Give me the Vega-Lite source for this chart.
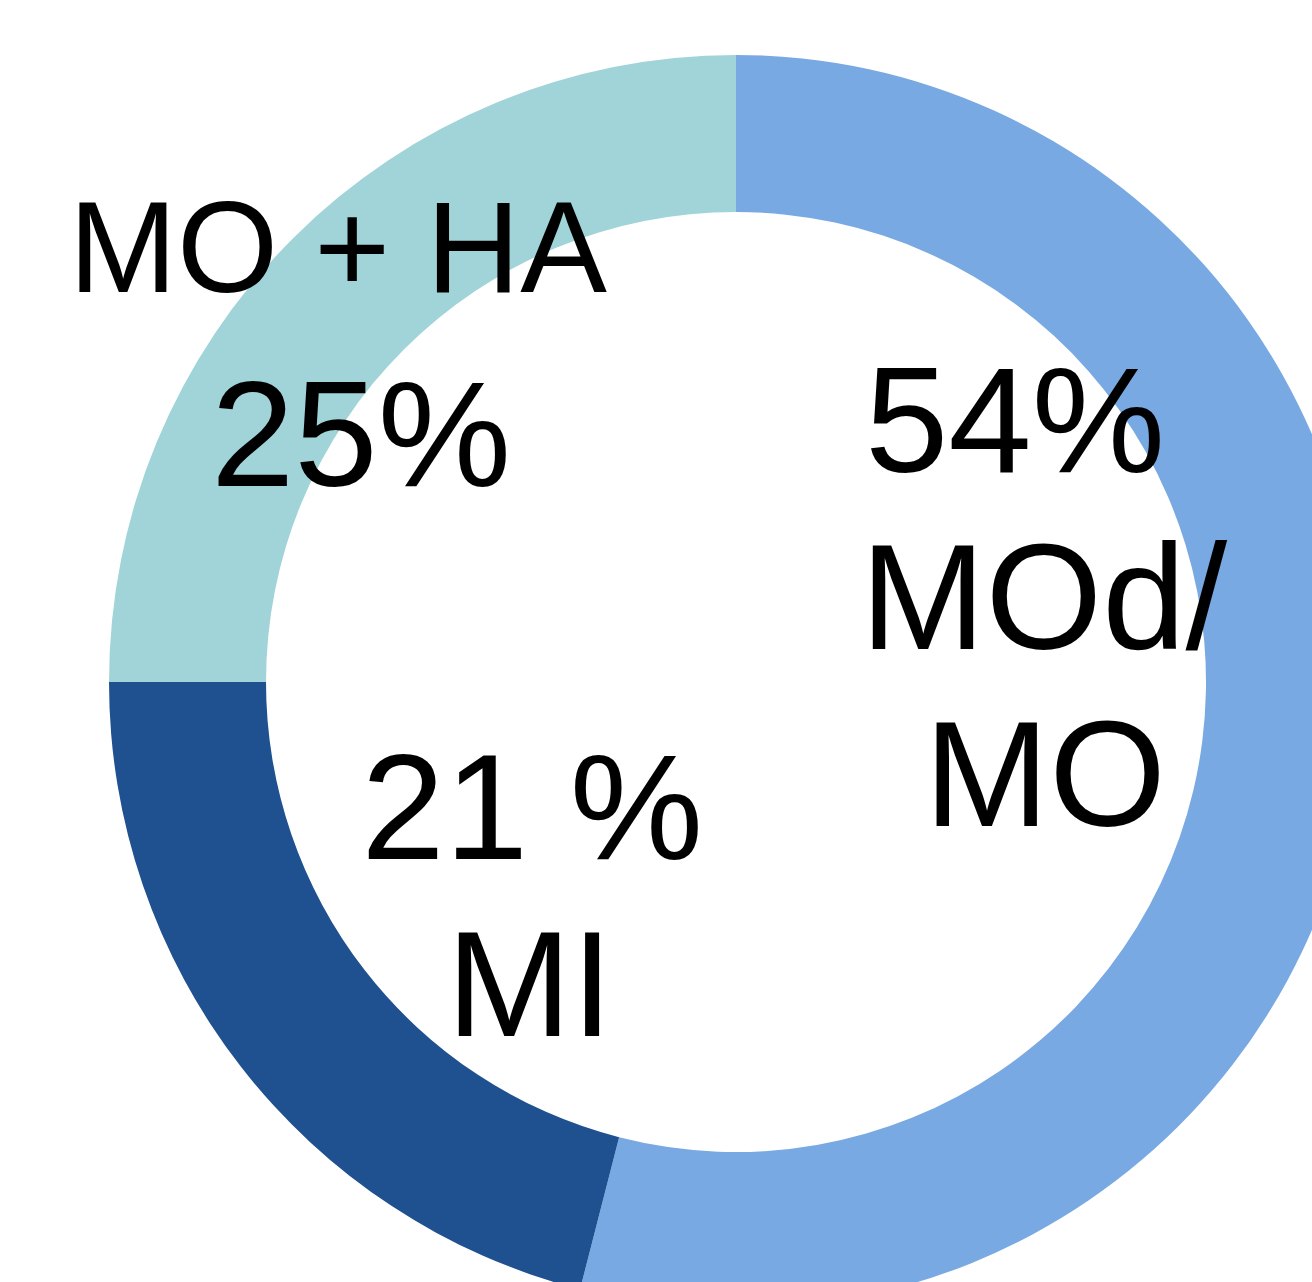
{
  "$schema": "https://vega.github.io/schema/vega-lite/v6.json",
  "width": 1472,
  "height": 1364,
  "autosize": "none",
  "padding": 0,
  "background": "white",
  "config": {"view": {"stroke": null}},
  "layer": [
    {
      "data": {"values": [
        {"segment": "MOd/MO", "value": 54, "order": 1},
        {"segment": "MI", "value": 21, "order": 2},
        {"segment": "MO + HA", "value": 25, "order": 3}
      ]},
      "mark": {"type": "arc", "radius": 627, "radius2": 470, "stroke": null},
      "encoding": {
        "theta": {"field": "value", "type": "quantitative", "stack": true},
        "order": {"field": "order", "type": "quantitative"},
        "color": {
          "field": "segment", "type": "nominal", "legend": null,
          "scale": {"domain": ["MOd/MO", "MI", "MO + HA"], "range": ["#78A9E2", "#1F5090", "#A0D4D9"]}
        }
      }
    },
    {
      "data": {"values": [
        {"text": "MO + HA", "lx": -0.635, "ly": 0.622, "big": false},
        {"text": "25%", "lx": -0.598, "ly": 0.313, "big": true},
        {"text": "54%", "lx": 0.445, "ly": 0.335, "big": true},
        {"text": "MOd/", "lx": 0.491, "ly": 0.053, "big": true},
        {"text": "MO", "lx": 0.493, "ly": -0.229, "big": true},
        {"text": "21 %", "lx": -0.325, "ly": -0.282, "big": true},
        {"text": "MI", "lx": -0.329, "ly": -0.564, "big": true}
      ]},
      "mark": {"type": "text", "font": "Liberation Sans", "baseline": "alphabetic", "align": "center", "color": "black"},
      "encoding": {
        "x": {"field": "lx", "type": "quantitative", "scale": {"domain": [-1.1738, 1.1738], "nice": false, "zero": false}, "axis": null},
        "y": {"field": "ly", "type": "quantitative", "scale": {"domain": [-1.0877, 1.0877], "nice": false, "zero": false}, "axis": null},
        "text": {"field": "text", "type": "nominal"},
        "size": {"field": "big", "type": "nominal", "legend": null, "scale": {"domain": [false, true], "range": [130, 150]}}
      }
    }
  ]
}
